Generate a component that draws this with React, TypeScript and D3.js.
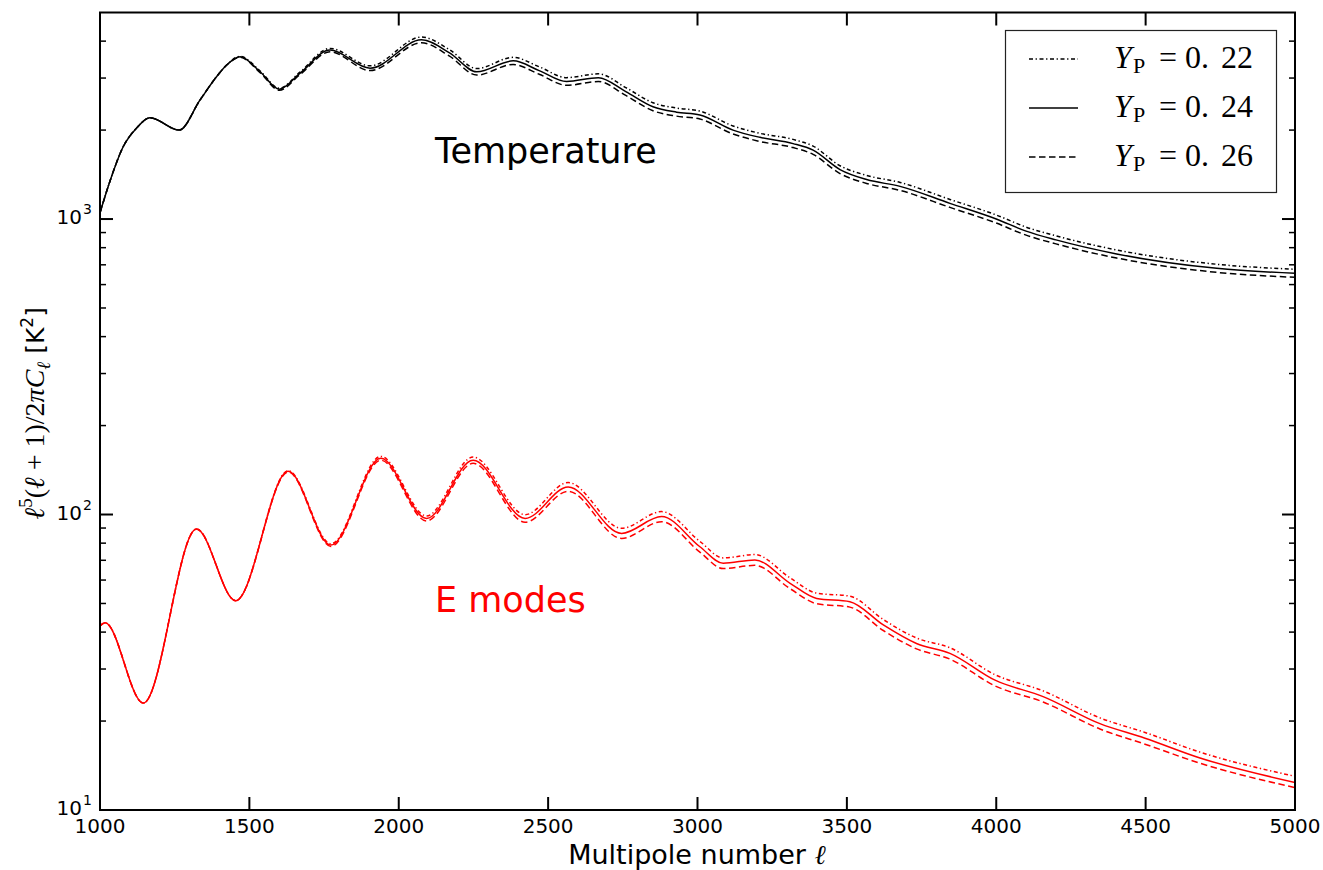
import React from "react";
import * as d3 from "d3";

// ---------- data ----------
const tempEll = [1000, 1033, 1078, 1122, 1167, 1265, 1335, 1390, 1424, 1469, 1536, 1600, 1669, 1770, 1904, 2076, 2170, 2261, 2383, 2470, 2562, 2668, 2760, 2851, 2930, 3008, 3119, 3209, 3320, 3387, 3477, 3566, 3678, 3845, 4000, 4100, 4200, 4403, 4738, 5000];
const tempY22 = [1050, 1340, 1760, 2030, 2200, 2000, 2530, 3030, 3320, 3555, 3170, 2770, 3140, 3780, 3300, 4130, 3740, 3230, 3525, 3275, 3010, 3100, 2785, 2475, 2375, 2320, 2065, 1950, 1860, 1765, 1515, 1405, 1330, 1165, 1032, 939, 877, 786, 703, 676];
const tempY24 = [1050, 1340, 1760, 2030, 2200, 2000, 2530, 3030, 3320, 3540, 3150, 2750, 3110, 3730, 3240, 4040, 3650, 3150, 3430, 3180, 2920, 3010, 2700, 2400, 2300, 2250, 2000, 1890, 1800, 1710, 1470, 1360, 1290, 1130, 1000, 910, 850, 762, 681, 655];
const tempY26 = [1050, 1340, 1760, 2030, 2200, 2000, 2530, 3030, 3320, 3525, 3130, 2730, 3080, 3680, 3180, 3950, 3560, 3070, 3335, 3090, 2835, 2920, 2620, 2325, 2230, 2180, 1940, 1830, 1745, 1655, 1425, 1320, 1250, 1095, 969, 882, 824, 738, 660, 635];

const eEll = [1000, 1017, 1145, 1323, 1454, 1630, 1773, 1940, 2093, 2249, 2423, 2567, 2746, 2880, 3008, 3086, 3192, 3310, 3399, 3510, 3622, 3733, 3845, 3996, 4157, 4347, 4498, 4682, 5000];
const eY22 = [42, 43, 23, 89.3, 51.1, 140.7, 79.6, 157.3, 98.9, 156.5, 99.9, 128.3, 89.8, 102.3, 81.1, 71.3, 73.2, 61.0, 54.2, 52.9, 44.1, 38.2, 35.4, 28.7, 25.3, 20.5, 18.3, 15.7, 13.0];
const eY24 = [42, 43, 23, 89.3, 51.1, 140, 78.8, 155, 97, 152.7, 97, 124, 86.3, 98.4, 77.8, 68.4, 70.2, 58.5, 52, 50.7, 42.3, 36.6, 33.9, 27.5, 24.2, 19.6, 17.5, 15.0, 12.4];
const eY26 = [42, 43, 23, 89.3, 51.1, 139.3, 78.0, 152.7, 95.1, 149.0, 94.2, 119.8, 83.0, 94.6, 74.6, 65.6, 67.3, 56.1, 49.9, 48.6, 40.5, 35.1, 32.4, 26.3, 23.2, 18.8, 16.7, 14.4, 11.9];

const xTicks = [1000, 1500, 2000, 2500, 3000, 3500, 4000, 4500, 5000];
const yMajor = [10, 100, 1000];
const yMajorExp = ["1", "2", "3"];
const legendDecimals = ["22", "24", "26"];

// ---------- layout ----------
const W = 1323, H = 870;
const L = 100, R = 1295, T = 12.5, B = 810;

const x = d3.scaleLinear().domain([1000, 5000]).range([L, R]);
const y = d3.scaleLog().domain([10, 5000]).range([B, T]);

const DASHDOT = "4,2.6,1.3,2.6";
const DASHED = "6.5,3.5";
const styles = [DASHDOT, undefined, DASHED];

function mk(ell: number[], vals: number[]) {
  const line = d3
    .line<number>()
    .x((_, i) => x(ell[i]))
    .y((v) => y(v))
    .curve(d3.curveMonotoneX);
  return line(vals) || "";
}

const minorVals: number[] = [];
for (const d of [10, 100, 1000]) {
  for (let k = 2; k <= 9; k++) {
    const v = k * d;
    if (v < 5000) minorVals.push(v);
  }
}

export default function App() {
  const tempSeries = [tempY22, tempY24, tempY26];
  const eSeries = [eY22, eY24, eY26];
  const mathFont = "'Liberation Serif', 'DejaVu Serif', serif";
  const sans = "'DejaVu Sans', sans-serif";
  return (
    <svg
      width={W}
      height={H}
      style={{ position: "absolute", left: 0, top: 0, background: "#fff" }}
    >
      <defs>
        <clipPath id="plotclip">
          <rect x={L} y={T} width={R - L} height={B - T} />
        </clipPath>
      </defs>
      <rect x={0} y={0} width={W} height={H} fill="#fff" />

      <g clipPath="url(#plotclip)" fill="none" strokeWidth={1.5}>
        {tempSeries.map((s, i) => (
          <path key={"t" + i} d={mk(tempEll, s)} stroke="#000" strokeDasharray={styles[i]} />
        ))}
        {eSeries.map((s, i) => (
          <path key={"e" + i} d={mk(eEll, s)} stroke="#ff0000" strokeDasharray={styles[i]} />
        ))}
      </g>

      {/* x ticks, bottom & top */}
      {xTicks.map((t) => (
        <g key={"xt" + t}>
          <line x1={x(t)} x2={x(t)} y1={B} y2={B - 13} stroke="#000" strokeWidth={2} />
          <line x1={x(t)} x2={x(t)} y1={T} y2={T + 13} stroke="#000" strokeWidth={2} />
          <text x={x(t)} y={833} textAnchor="middle" fontFamily={sans} fontSize={20}>
            {t}
          </text>
        </g>
      ))}

      {/* y ticks */}
      {yMajor.map((v, i) => (
        <g key={"ym" + v}>
          <line x1={L} x2={L + 13} y1={y(v)} y2={y(v)} stroke="#000" strokeWidth={2} />
          <line x1={R} x2={R - 13} y1={y(v)} y2={y(v)} stroke="#000" strokeWidth={2} />
          <text x={82} y={y(v) + 5} textAnchor="end" fontFamily={sans} fontSize={20}>
            10
          </text>
          <text x={83} y={y(v) - 5} textAnchor="start" fontFamily={sans} fontSize={14}>
            {yMajorExp[i]}
          </text>
        </g>
      ))}
      {minorVals.map((v) => (
        <g key={"yn" + v}>
          <line x1={L} x2={L + 6} y1={y(v)} y2={y(v)} stroke="#000" strokeWidth={1.5} />
          <line x1={R} x2={R - 6} y1={y(v)} y2={y(v)} stroke="#000" strokeWidth={1.5} />
        </g>
      ))}

      {/* frame */}
      <rect x={L} y={T} width={R - L} height={B - T} fill="none" stroke="#000" strokeWidth={2} />

      {/* annotations */}
      <text x={435} y={163} fontFamily={sans} fontSize={35} fill="#000">
        Temperature
      </text>
      <text x={435} y={612} fontFamily={sans} fontSize={35} fill="#ff0000">
        E modes
      </text>

      {/* x label */}
      <text x={697} y={864} textAnchor="middle" fontFamily={sans} fontSize={27}>
        Multipole number{" "}
        <tspan fontFamily={mathFont} fontStyle="italic">ℓ</tspan>
      </text>

      {/* y label */}
      <text
        transform={`translate(44,${(T + B) / 2 + 2}) rotate(-90)`}
        textAnchor="middle"
        fontSize={28}
        fontFamily={mathFont}
      >
        <tspan fontStyle="italic">ℓ</tspan>
        <tspan fontSize={19} dy={-12}>5</tspan>
        <tspan dy={12}>(</tspan>
        <tspan fontStyle="italic">ℓ</tspan>
        <tspan> + 1)/2</tspan>
        <tspan fontStyle="italic">π</tspan>
        <tspan fontStyle="italic">C</tspan>
        <tspan fontSize={19} fontStyle="italic" dy={6}>ℓ</tspan>
        <tspan dy={-6} fontFamily={sans} fontSize={25}>{"\u00a0"}[K</tspan>
        <tspan fontFamily={sans} fontSize={17} dy={-11}>2</tspan>
        <tspan fontFamily={sans} fontSize={25} dy={11}>]</tspan>
      </text>

      {/* legend */}
      <rect x={1005.5} y={30.5} width={271} height={162} fill="#fff" stroke="#222" strokeWidth={1.2} />
      {legendDecimals.map((dec, i) => {
        const ly = 59 + i * 49;
        const base = ly + 9;
        return (
          <g key={"lg" + i} fontFamily={mathFont}>
            <line x1={1029} x2={1078} y1={ly} y2={ly} stroke="#000" strokeWidth={1.5} strokeDasharray={styles[i]} />
            <text x={1114} y={base} fontSize={32} fontStyle="italic">Y</text>
            <text x={1133} y={base + 5} fontSize={22}>P</text>
            <text x={1159} y={base} fontSize={32}>=</text>
            <text x={1185} y={base} fontSize={32}>0.</text>
            <text x={1221} y={base} fontSize={32}>{dec}</text>
          </g>
        );
      })}
    </svg>
  );
}
